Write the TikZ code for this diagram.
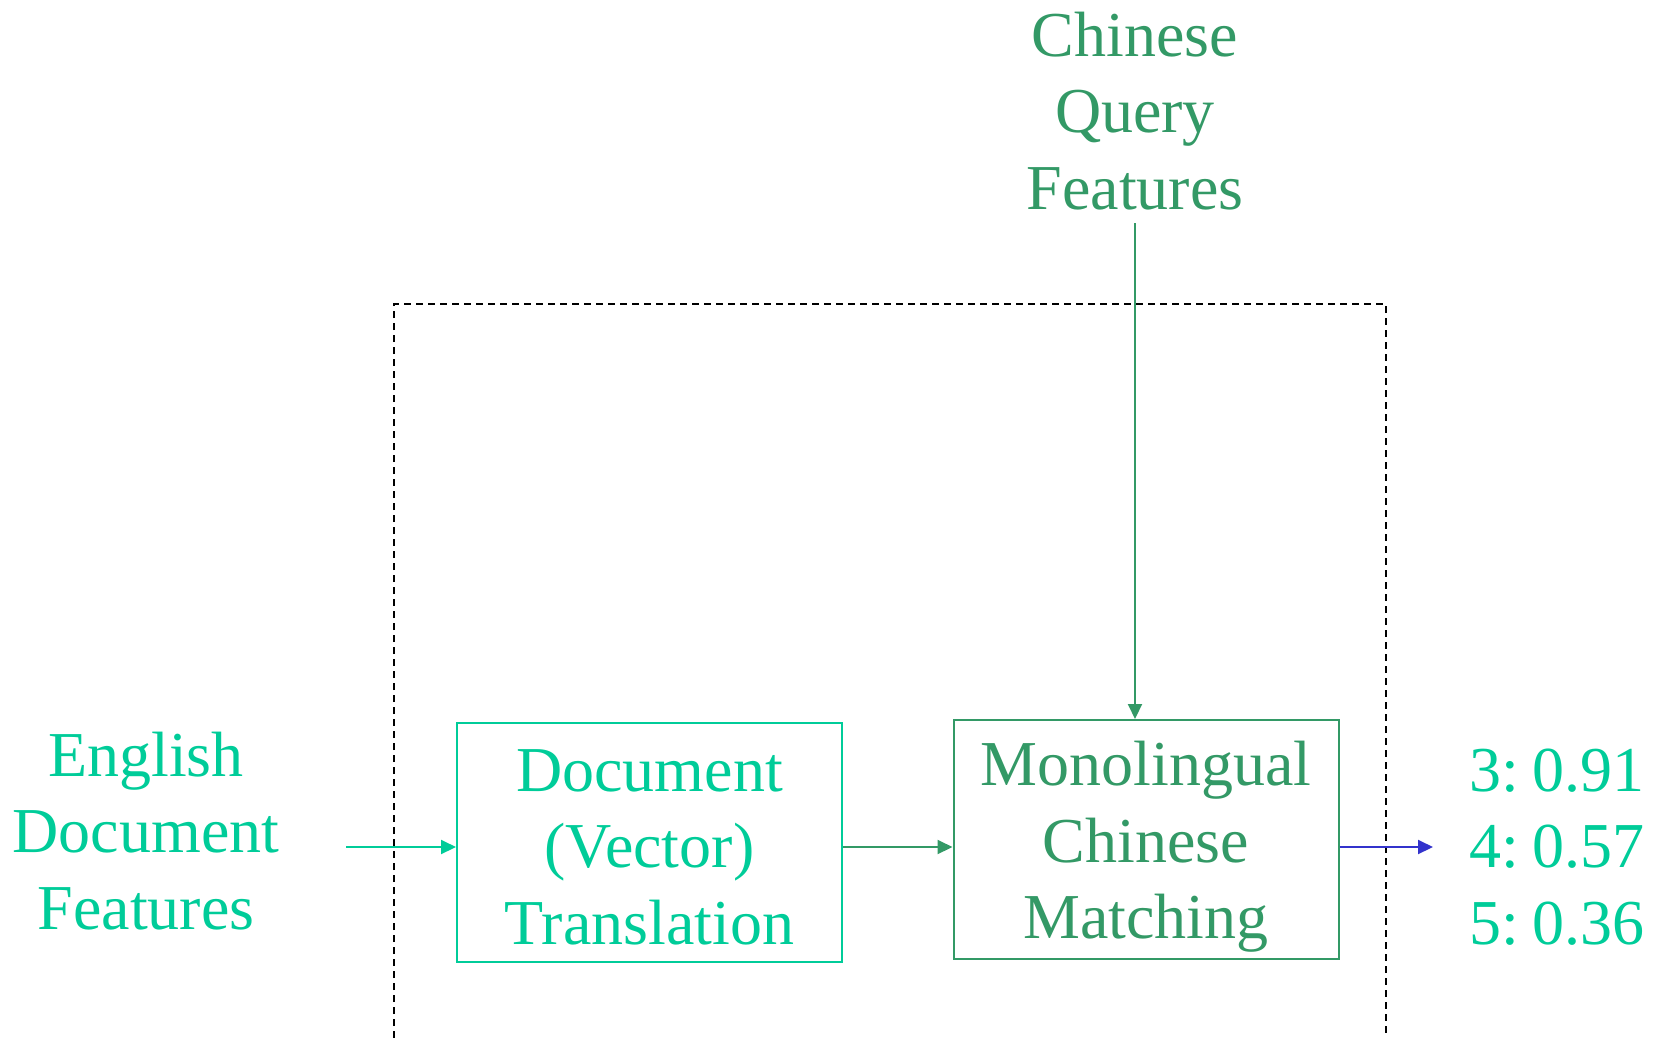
\documentclass[tikz,border=0pt]{standalone}
\usepackage{fontspec}
\setmainfont{Liberation Serif}
\usetikzlibrary{arrows.meta}
\definecolor{lightgreen}{RGB}{0,204,153}
\definecolor{darkgreen}{RGB}{51,153,102}
\definecolor{arrowblue}{RGB}{51,51,204}
\tikzset{
  bigtext/.style={font=\fontsize{64}{76.5}\selectfont, align=center, inner sep=0pt},
  procbox/.style={draw, line width=2pt, minimum width=385pt, minimum height=239pt,
    inner sep=0pt},
  flow/.style={line width=2pt, -{Triangle[length=15pt,width=14pt]}},
}
\newcommand{\scoregap}{\hspace{0.21em}}
\begin{document}
\begin{tikzpicture}[x=1pt,y=-1pt]
  \useasboundingbox (0,0) rectangle (1660,1037);
  % system boundary
  \draw[line width=2pt, dash pattern=on 7pt off 5pt]
    (394,1050) -- (394,304) -- (1386,304) -- (1386,1050);
  % inputs
  \node[bigtext, text=lightgreen] (eng) at (146,831) {English\\Document\\Features};
  \node[bigtext, text=darkgreen] (cq) at (1135,111) {Chinese\\Query\\Features};
  % processing blocks
  \node[procbox, draw=lightgreen,
    label={[bigtext, text=lightgreen, yshift=-4.5pt]center:{Document\\(Vector)\\Translation}}]
    (trans) at (649.5,842.5) {};
  \node[procbox, draw=darkgreen,
    label={[bigtext, text=darkgreen, yshift=-7.5pt]center:{Monolingual\\Chinese\\Matching}}]
    (match) at (1146,839.5) {};
  % output scores
  \node[bigtext, text=lightgreen, align=left, anchor=west] (out) at (1469,847)
    {3:\scoregap 0.91\\4:\scoregap 0.57\\5:\scoregap 0.36};
  % connectors
  \coordinate (engout) at (346,847);
  \coordinate (cqout) at (1135,223);
  \coordinate (resin) at (1433,847);
  \draw[flow, lightgreen] (engout) -- (engout -| trans.west);
  \draw[flow, darkgreen] (engout -| trans.east) -- (engout -| match.west);
  \draw[flow, darkgreen] (cqout) -- (cqout |- match.north);
  \draw[flow, arrowblue] (engout -| match.east) -- (resin);
\end{tikzpicture}
\end{document}
